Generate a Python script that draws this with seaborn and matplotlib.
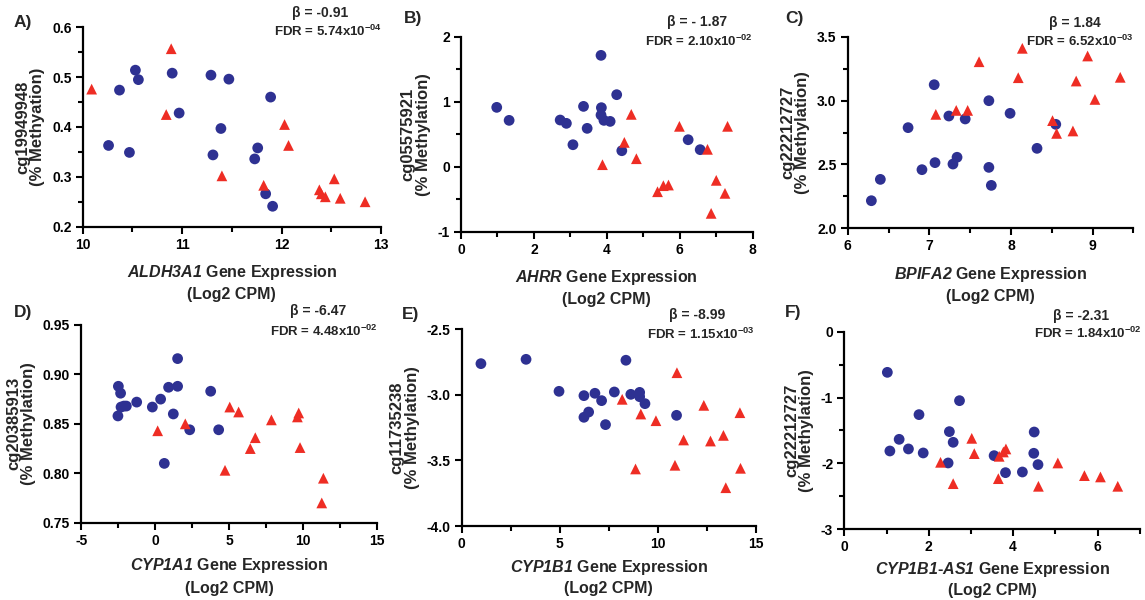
import matplotlib
matplotlib.use("Agg")
import matplotlib.pyplot as plt
from matplotlib.ticker import MultipleLocator, FormatStrFormatter
import seaborn as sns
import pandas as pd

# ---------------- data ----------------
A_blue_x = [10.26, 10.37, 10.47, 10.53, 10.56, 10.90, 10.97, 11.29, 11.31, 11.39, 11.47, 11.73, 11.76, 11.89, 11.84, 11.91]
A_blue_y = [0.363, 0.474, 0.349, 0.514, 0.495, 0.508, 0.428, 0.504, 0.344, 0.397, 0.496, 0.336, 0.358, 0.460, 0.266, 0.241]
A_red_x = [10.09, 10.89, 10.84, 11.40, 11.82, 12.03, 12.07, 12.38, 12.40, 12.44, 12.53, 12.59, 12.84]
A_red_y = [0.476, 0.557, 0.425, 0.302, 0.283, 0.405, 0.363, 0.274, 0.266, 0.260, 0.296, 0.257, 0.250]

B_blue_x = [0.98, 1.32, 2.72, 2.89, 3.07, 3.36, 3.46, 3.84, 3.85, 3.84, 3.92, 4.09, 4.27, 4.41, 6.23, 6.56]
B_blue_y = [0.913, 0.713, 0.718, 0.667, 0.338, 0.928, 0.590, 1.713, 0.908, 0.795, 0.713, 0.697, 1.108, 0.246, 0.415, 0.262]
B_red_x = [3.88, 4.48, 4.67, 4.81, 5.39, 5.55, 5.69, 5.99, 6.76, 6.86, 7.00, 7.24, 7.31]
B_red_y = [0.031, 0.374, 0.805, 0.123, -0.385, -0.292, -0.282, 0.621, 0.267, -0.718, -0.210, -0.410, 0.621]

C_blue_x = [6.29, 6.40, 6.74, 6.91, 7.06, 7.07, 7.24, 7.29, 7.34, 7.44, 7.73, 7.73, 7.76, 7.99, 8.32, 8.55]
C_blue_y = [2.216, 2.383, 2.788, 2.459, 3.124, 2.514, 2.879, 2.503, 2.556, 2.856, 2.999, 2.477, 2.336, 2.900, 2.626, 2.814]
C_red_x = [7.08, 7.33, 7.47, 7.61, 8.09, 8.14, 8.51, 8.56, 8.76, 8.80, 8.94, 9.03, 9.34]
C_red_y = [2.892, 2.923, 2.923, 3.304, 3.179, 3.409, 2.843, 2.743, 2.762, 3.153, 3.349, 3.009, 3.182]

D_blue_x = [-2.49, -2.34, -2.52, -2.31, -2.11, -1.95, -1.25, -0.19, 0.37, 0.62, 0.91, 1.23, 1.52, 1.52, 2.34, 3.76, 4.30]
D_blue_y = [0.888, 0.881, 0.858, 0.867, 0.868, 0.868, 0.872, 0.867, 0.875, 0.810, 0.887, 0.860, 0.916, 0.888, 0.844, 0.883, 0.844]
D_red_x = [0.17, 2.04, 4.73, 5.05, 5.65, 6.44, 6.78, 7.87, 9.63, 9.72, 9.81, 11.39, 11.28]
D_red_y = [0.843, 0.850, 0.803, 0.867, 0.862, 0.825, 0.836, 0.854, 0.857, 0.861, 0.826, 0.795, 0.770]

E_blue_x = [0.98, 3.28, 4.96, 6.23, 6.23, 6.47, 6.79, 7.13, 7.33, 7.78, 8.37, 8.62, 9.07, 9.07, 9.34, 10.95]
E_blue_y = [-2.762, -2.729, -2.973, -3.006, -3.171, -3.131, -2.988, -3.044, -3.227, -2.978, -2.736, -2.996, -2.981, -3.014, -3.067, -3.156]
E_red_x = [8.18, 8.86, 9.13, 9.90, 10.97, 10.87, 11.31, 12.34, 12.68, 13.34, 13.46, 14.18, 14.21]
E_red_y = [-3.034, -3.565, -3.146, -3.197, -2.831, -3.537, -3.344, -3.080, -3.352, -3.309, -3.708, -3.136, -3.560]

F_blue_x = [1.02, 1.08, 1.30, 1.52, 1.77, 1.87, 2.46, 2.49, 2.58, 2.73, 3.55, 3.82, 4.22, 4.50, 4.49, 4.59]
F_blue_y = [-0.617, -1.811, -1.634, -1.780, -1.259, -1.841, -1.993, -1.517, -1.679, -1.047, -1.882, -2.140, -2.130, -1.523, -1.846, -2.018]
F_red_x = [2.28, 2.58, 3.02, 3.08, 3.65, 3.67, 3.77, 3.83, 4.60, 5.06, 5.69, 6.07, 6.48]
F_red_y = [-1.983, -2.307, -1.619, -1.851, -2.231, -1.892, -1.826, -1.780, -2.347, -1.993, -2.185, -2.205, -2.347]

panel_letters = ["A)", "B)", "C)", "D)", "E)", "F)"]
cpg_names = ["cg19949948", "cg05575921", "cg22212727", "cg20385913", "cg11735238", "cg22212727"]
y_second = ["(% Methyation)", "(% Methylation)", "(% Methylation)", "(% Methylation)", "(% Methylation)", "(% Methylation)"]
genes = ["ALDH3A1", "AHRR", "BPIFA2", "CYP1A1", "CYP1B1", "CYP1B1-AS1"]
betas = ["-0.91", "- 1.87", "1.84", "-6.47", "-8.99", "-2.31"]
fdr_mant = ["5.74", "2.10", "6.52", "4.48", "1.15", "1.84"]
fdr_exp = ["-04", "-02", "-03", "-02", "-03", "-02"]

xlims = [(10, 13), (0, 8), (6, 9.5), (-5, 15), (0, 15), (0, 7)]
ylims = [(0.2, 0.6), (-1, 2), (2.0, 3.5), (0.75, 0.95), (-4.0, -2.5), (-3, 0)]
x_major = [1, 2, 1, 5, 5, 2]
x_minor = [0.5, 1, 0.5, 2.5, 2.5, 1]
y_major = [0.1, 1, 0.5, 0.05, 0.5, 1]
y_minor = [0.05, 0.5, 0.25, None, None, 0.5]
y_fmt = ["%.1f", "%d", "%.1f", "%.2f", "%.1f", "%d"]

series = [
    (A_blue_x, A_blue_y, A_red_x, A_red_y),
    (B_blue_x, B_blue_y, B_red_x, B_red_y),
    (C_blue_x, C_blue_y, C_red_x, C_red_y),
    (D_blue_x, D_blue_y, D_red_x, D_red_y),
    (E_blue_x, E_blue_y, E_red_x, E_red_y),
    (F_blue_x, F_blue_y, F_red_x, F_red_y),
]

# ---------------- style ----------------
sns.set_theme(style="ticks")
plt.rcParams["font.family"] = ["Liberation Sans", "DejaVu Sans"]
plt.rcParams["font.weight"] = "bold"
plt.rcParams["axes.unicode_minus"] = False
plt.rcParams["mathtext.fontset"] = "custom"
plt.rcParams["mathtext.rm"] = "Liberation Sans:bold"
plt.rcParams["mathtext.it"] = "Liberation Sans:italic:bold"
plt.rcParams["mathtext.bf"] = "Liberation Sans:bold"
plt.rcParams["mathtext.sf"] = "Liberation Sans:italic:bold"

W, H = 1145, 600
fig = plt.figure(figsize=(W / 100, H / 100), dpi=100)

# axes boxes in pixels: left, right, top, bottom
boxes = [
    (82.7, 381.0, 27.3, 226.7),
    (461.0, 752.7, 36.7, 231.7),
    (847.7, 1133.3, 36.7, 228.3),
    (81.3, 376.7, 325.0, 522.7),
    (461.7, 756.0, 329.3, 526.0),
    (844.3, 1139.7, 331.7, 529.3),
]
letter_pos = [(14, 22), (404, 18), (785, 18), (14, 312), (402, 315), (785, 312)]
beta_pos = [(320, 13), (697, 22), (1075, 23), (318, 311), (697, 315), (1081, 316)]
fdr_pos = [(382, 31), (753, 41), (1134, 41), (378, 331), (755, 334), (1142, 333)]
xlabel_pad = [8, 8, 8, 6, 5, 4]
xlabel_ls = [1.45, 1.45, 1.45, 1.45, 1.35, 1.3]

blue = "#2E3192"
red = "#EE2D24"

for i in range(6):
    l, r, t, b = boxes[i]
    ax = fig.add_axes([l / W, 1 - b / H, (r - l) / W, (b - t) / H])
    bx, by, rx, ry = series[i]
    df = pd.DataFrame({
        "x": list(bx) + list(rx),
        "y": list(by) + list(ry),
        "group": ["blue"] * len(bx) + ["red"] * len(rx),
    })
    sns.scatterplot(data=df, x="x", y="y", hue="group", style="group",
                    markers={"blue": "o", "red": "^"},
                    palette={"blue": blue, "red": red},
                    s=60, edgecolor="none", linewidth=0, legend=False,
                    ax=ax, clip_on=False, zorder=3)
    ax.set_xlim(*xlims[i])
    ax.set_ylim(*ylims[i])
    ax.xaxis.set_major_locator(MultipleLocator(x_major[i]))
    ax.xaxis.set_minor_locator(MultipleLocator(x_minor[i]))
    ax.yaxis.set_major_locator(MultipleLocator(y_major[i]))
    if y_minor[i] is not None:
        ax.yaxis.set_minor_locator(MultipleLocator(y_minor[i]))
    ax.yaxis.set_major_formatter(FormatStrFormatter(y_fmt[i]))
    ax.xaxis.set_major_formatter(FormatStrFormatter("%d"))
    sns.despine(ax=ax)
    for sp in ("left", "bottom"):
        ax.spines[sp].set_linewidth(1.6)
        ax.spines[sp].set_color("black")
    ax.tick_params(which="major", length=5, width=1.5, color="black",
                   labelsize=10, pad=3, labelcolor="black")
    ax.tick_params(which="minor", length=3.5, width=1.5, color="black")
    for lab in ax.get_xticklabels() + ax.get_yticklabels():
        lab.set_fontweight("bold")
    ax.set_ylabel(cpg_names[i] + "\n" + y_second[i], fontsize=12,
                  fontweight="bold", labelpad=5, linespacing=1.0)
    gname = genes[i]
    if "-" in gname:
        parts = gname.split("-")
        gtxt = "$\\mathsf{" + parts[0] + "}$-$\\mathsf{" + parts[1] + "}$"
    else:
        gtxt = "$\\mathsf{" + gname + "}$"
    ax.set_xlabel(gtxt + " Gene Expression\n(Log2 CPM)", fontsize=11.5,
                  fontweight="bold", labelpad=xlabel_pad[i],
                  linespacing=xlabel_ls[i])
    ax.set_facecolor("white")

    lx, ly = letter_pos[i]
    fig.text(lx / W, 1 - ly / H, panel_letters[i], fontsize=12.5,
             fontweight="bold", ha="left", va="center")
    bxp, byp = beta_pos[i]
    fig.text(bxp / W, 1 - byp / H, "\u03b2 = " + betas[i], fontsize=10,
             fontweight="bold", ha="center", va="center")
    fxp, fyp = fdr_pos[i]
    fig.text(fxp / W, 1 - fyp / H,
             "FDR = " + fdr_mant[i] + "x10$^{" + fdr_exp[i] + "}$",
             fontsize=9.5, fontweight="bold", ha="right", va="center")

fig.savefig("out.png", dpi=100, facecolor="white")
